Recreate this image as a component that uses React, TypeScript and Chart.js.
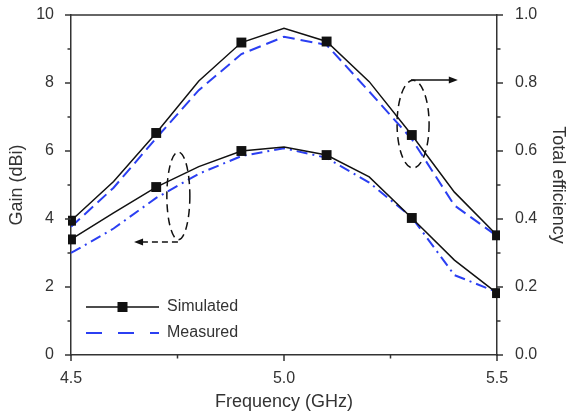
import React, { useEffect, useRef } from 'react';
import { Chart, registerables } from 'chart.js';

Chart.register(...registerables);

// ---- Data ----
const frequencies = [4.5, 4.6, 4.7, 4.8, 4.9, 5.0, 5.1, 5.2, 5.3, 5.4, 5.5];
const gainSimulated = [3.4, 4.18, 4.94, 5.54, 6.0, 6.12, 5.88, 5.24, 4.03, 2.79, 1.82];
const gainMeasured = [3.0, 3.72, 4.62, 5.33, 5.85, 6.08, 5.8, 5.07, 4.05, 2.35, 1.85];
const effSimulated = [0.395, 0.51, 0.653, 0.806, 0.919, 0.961, 0.922, 0.804, 0.647, 0.479, 0.352];
const effMeasured = [0.377, 0.492, 0.638, 0.779, 0.885, 0.936, 0.912, 0.775, 0.635, 0.44, 0.35];

const xMajorTicks = [4.5, 5.0, 5.5];
const xMinorTicks = [4.75, 5.25];
const gainMajorTicks = [0, 2, 4, 6, 8, 10];
const gainMinorTicks = [1, 3, 5, 7, 9];
const effMajorTicks = [0, 0.2, 0.4, 0.6, 0.8, 1.0];
const effMinorTicks = [0.1, 0.3, 0.5, 0.7, 0.9];

const legendLabels = ['Simulated', 'Measured'];

const BLUE = '#2b3ff2';
const AXIS = '#333333';
const TEXT = '#333333';
const FONT = 'Arial, "Liberation Sans", sans-serif';
const TICK_FONT = { size: 16, family: FONT };
const TITLE_FONT = { size: 18, family: FONT };

const toPoints = (ys: number[]) => frequencies.map((x, i) => ({ x, y: ys[i] }));
const markerRadius = (ctx: any) => (ctx.dataIndex % 2 === 0 ? 7 : 0);

const decorPlugin = {
  id: 'decor',
  afterDraw(chart: any) {
    const ctx = chart.ctx as CanvasRenderingContext2D;
    const area = chart.chartArea;
    const xs = chart.scales.x;
    const yl = chart.scales.y;
    const yr = chart.scales.y2;
    ctx.save();
    // top border
    ctx.strokeStyle = AXIS;
    ctx.lineWidth = 1.5;
    ctx.beginPath();
    ctx.moveTo(area.left, area.top);
    ctx.lineTo(area.right, area.top);
    ctx.stroke();
    // ticks
    const tick = (x1: number, y1: number, x2: number, y2: number) => {
      ctx.beginPath();
      ctx.moveTo(x1, y1);
      ctx.lineTo(x2, y2);
      ctx.stroke();
    };
    ctx.lineWidth = 1.5;
    xMajorTicks.forEach((v) => { const p = xs.getPixelForValue(v); tick(p, area.bottom, p, area.bottom + 6); });
    xMinorTicks.forEach((v) => { const p = xs.getPixelForValue(v); tick(p, area.bottom, p, area.bottom + 3.5); });
    gainMajorTicks.forEach((v) => { const p = yl.getPixelForValue(v); tick(area.left, p, area.left - 6, p); });
    gainMinorTicks.forEach((v) => { const p = yl.getPixelForValue(v); tick(area.left, p, area.left - 3.5, p); });
    effMajorTicks.forEach((v) => { const p = yr.getPixelForValue(v); tick(area.right, p, area.right + 6, p); });
    effMinorTicks.forEach((v) => { const p = yr.getPixelForValue(v); tick(area.right, p, area.right + 3.5, p); });

    // annotations (ellipses + arrows) in data coordinates
    const ellipse = (cx: number, cy: number, dx: number, dy: number) => {
      const px = xs.getPixelForValue(cx);
      const py = yl.getPixelForValue(cy);
      const rx = Math.abs(xs.getPixelForValue(cx + dx) - px);
      const ry = Math.abs(yl.getPixelForValue(cy + dy) - py);
      ctx.save();
      ctx.strokeStyle = '#111';
      ctx.lineWidth = 1.5;
      ctx.setLineDash([8, 5]);
      ctx.beginPath();
      ctx.ellipse(px, py, rx, ry, 0, 0, Math.PI * 2);
      ctx.stroke();
      ctx.restore();
    };
    const arrow = (x1: number, y1: number, x2: number, y2: number, dashed: boolean) => {
      const p1x = xs.getPixelForValue(x1);
      const p1y = yl.getPixelForValue(y1);
      const p2x = xs.getPixelForValue(x2);
      const p2y = yl.getPixelForValue(y2);
      const dir = Math.sign(p2x - p1x);
      ctx.save();
      ctx.strokeStyle = '#111';
      ctx.fillStyle = '#111';
      ctx.lineWidth = 1.5;
      if (dashed) ctx.setLineDash([6, 4]);
      ctx.beginPath();
      ctx.moveTo(p1x, p1y);
      ctx.lineTo(p2x - dir * 6, p2y);
      ctx.stroke();
      ctx.setLineDash([]);
      ctx.beginPath();
      ctx.moveTo(p2x, p2y);
      ctx.lineTo(p2x - dir * 9, p2y - 3.5);
      ctx.lineTo(p2x - dir * 9, p2y + 3.5);
      ctx.closePath();
      ctx.fill();
      ctx.restore();
    };
    ellipse(5.303, 6.79, 0.0376, 1.29);
    arrow(5.298, 8.09, 5.408, 8.09, false);
    ellipse(4.752, 4.68, 0.027, 1.29);
    arrow(4.751, 3.32, 4.648, 3.32, true);

    // legend
    const lx1 = area.left + 15;
    const lx2 = area.left + 88;
    const ly1 = area.bottom - 48;
    const ly2 = area.bottom - 22;
    ctx.strokeStyle = '#111';
    ctx.lineWidth = 1.5;
    ctx.beginPath();
    ctx.moveTo(lx1, ly1);
    ctx.lineTo(lx2, ly1);
    ctx.stroke();
    ctx.fillStyle = '#111';
    const mc = (lx1 + lx2) / 2;
    ctx.fillRect(mc - 5, ly1 - 5, 10, 10);
    ctx.save();
    ctx.strokeStyle = BLUE;
    ctx.lineWidth = 2;
    ctx.setLineDash([16, 16]);
    ctx.beginPath();
    ctx.moveTo(lx1, ly2);
    ctx.lineTo(lx2, ly2);
    ctx.stroke();
    ctx.restore();
    ctx.fillStyle = TEXT;
    ctx.font = `16px ${FONT}`;
    ctx.textBaseline = 'middle';
    ctx.textAlign = 'left';
    ctx.fillText(legendLabels[0], lx2 + 8, ly1);
    ctx.fillText(legendLabels[1], lx2 + 8, ly2);
    ctx.restore();
  },
};

const noPadV = (s: any, w: number) => { s.width = w; s.paddingTop = 0; s.paddingBottom = 0; };

export default function App() {
  const canvasRef = useRef<HTMLCanvasElement | null>(null);

  useEffect(() => {
    if (!canvasRef.current) return;
    const chart = new Chart(canvasRef.current, {
      type: 'line',
      data: {
        datasets: [
          {
            label: 'Efficiency simulated',
            data: toPoints(effSimulated),
            yAxisID: 'y2',
            borderColor: '#111',
            backgroundColor: '#111',
            borderWidth: 1.5,
            pointStyle: 'rect',
            pointRadius: markerRadius,
            pointBorderWidth: 0,
            clip: 3,
          },
          {
            label: 'Gain simulated',
            data: toPoints(gainSimulated),
            yAxisID: 'y',
            borderColor: '#111',
            backgroundColor: '#111',
            borderWidth: 1.5,
            pointStyle: 'rect',
            pointRadius: markerRadius,
            pointBorderWidth: 0,
            clip: 3,
          },
          {
            label: 'Efficiency measured',
            data: toPoints(effMeasured),
            yAxisID: 'y2',
            borderColor: BLUE,
            borderWidth: 2,
            borderDash: [12, 6],
            pointRadius: 0,
          },
          {
            label: 'Gain measured',
            data: toPoints(gainMeasured),
            yAxisID: 'y',
            borderColor: BLUE,
            borderWidth: 2,
            borderDash: [11, 5, 2, 5],
            pointRadius: 0,
          },
        ],
      } as any,
      options: {
        responsive: false,
        animation: false,
        layout: { padding: { top: 15, left: 2, right: 0, bottom: 2 } },
        plugins: { legend: { display: false }, tooltip: { enabled: false } },
        scales: {
          x: {
            type: 'linear',
            min: 4.5,
            max: 5.5,
            grid: { display: false, drawTicks: false },
            border: { display: true, color: AXIS, width: 1.5 },
            ticks: {
              stepSize: 0.5,
              padding: 14,
              color: TEXT,
              font: TICK_FONT,
              callback: (v: any) => Number(v).toFixed(1),
            },
            title: { display: true, text: 'Frequency (GHz)', color: TEXT, font: TITLE_FONT, padding: { top: 0, bottom: 3 } },
            afterFit: (s: any) => { s.height = 61; s.paddingLeft = 0; s.paddingRight = 0; },
          },
          y: {
            type: 'linear',
            position: 'left',
            min: 0,
            max: 10,
            grid: { display: false, drawTicks: false },
            border: { display: true, color: AXIS, width: 1.5 },
            ticks: { stepSize: 2, padding: 17, color: TEXT, font: TICK_FONT },
            title: { display: true, text: 'Gain (dBi)', color: TEXT, font: TITLE_FONT, padding: { top: 4, bottom: 4 } },
            afterFit: (s: any) => noPadV(s, 69),
          },
          y2: {
            type: 'linear',
            position: 'right',
            min: 0,
            max: 1,
            grid: { display: false, drawTicks: false },
            border: { display: true, color: AXIS, width: 1.5 },
            ticks: {
              stepSize: 0.2,
              padding: 18,
              color: TEXT,
              font: TICK_FONT,
              callback: (v: any) => Number(v).toFixed(1),
            },
            title: { display: true, text: 'Total efficiency', color: TEXT, font: TITLE_FONT, padding: { top: 0, bottom: 0 } },
            afterFit: (s: any) => noPadV(s, 72),
          },
        },
      } as any,
      plugins: [decorPlugin],
    });
    return () => chart.destroy();
  }, []);

  return (
    <div style={{ position: 'fixed', left: 0, top: 0, width: 569, height: 418, background: '#fff' }}>
      <canvas ref={canvasRef} width={569} height={418} style={{ display: 'block' }} />
    </div>
  );
}
